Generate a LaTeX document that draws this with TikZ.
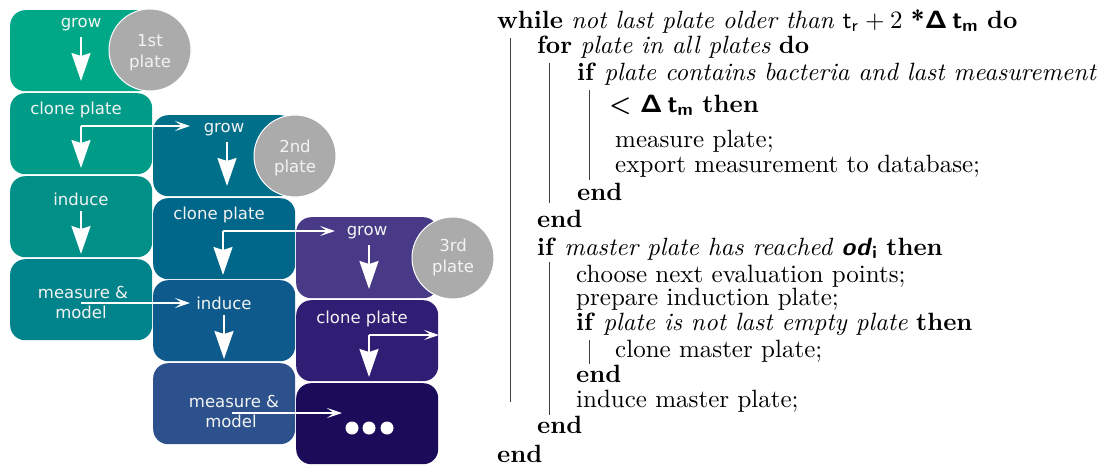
\documentclass[tikz,border=0pt]{standalone}
\usepackage[no-math]{fontspec}
\usepackage{graphicx}
\usetikzlibrary{arrows.meta}
\newfontfamily\boxfont{DejaVu Sans}
\definecolor{c11}{HTML}{00A887}
\definecolor{c12}{HTML}{009C88}
\definecolor{c13}{HTML}{009088}
\definecolor{c14}{HTML}{00838A}
\definecolor{c21}{HTML}{00708A}
\definecolor{c22}{HTML}{00668A}
\definecolor{c23}{HTML}{0E5A8C}
\definecolor{c24}{HTML}{2C518C}
\definecolor{c31}{HTML}{483A86}
\definecolor{c32}{HTML}{2F1E74}
\definecolor{c33}{HTML}{1B0C5A}
\definecolor{plategray}{HTML}{ABABAB}
\definecolor{txtw}{HTML}{F2F4F4}
\newcommand{\alg}[1]{\scalebox{2.5}{#1}}
\tikzset{
  box/.style={rectangle, rounded corners=15pt, minimum width=142pt, minimum height=81pt, inner sep=0pt, anchor=north west, draw=none},
  lbl/.style={font=\boxfont\fontsize{16.5}{20}\selectfont, text=txtw, anchor=base, inner sep=0pt},
  platec/.style={circle, fill=plategray, draw=white, line width=1pt, minimum size=82pt, inner sep=0pt},
  bigarrow/.style={draw=white, line width=2.3pt, -{Stealth[length=28pt,width=19pt,inset=3pt]}},
  smallarrow/.style={draw=white, line width=2pt, -{Stealth[length=15pt,width=10pt,inset=7pt]}},
  dot/.style={circle, fill=white, minimum size=13pt, inner sep=0pt},
  algline/.style={anchor=base west, inner sep=0pt},
  algrule/.style={draw=black!75, line width=0.9pt}
}
\begin{document}
\begin{tikzpicture}[x=1pt,y=-1pt]
\useasboundingbox (0,0) rectangle (1104,466);
% ---- boxes
\node[box, fill=c11] (b11) at (10,10) {};
\node[box, fill=c12] (b12) at (10,93) {};
\node[box, fill=c13] (b13) at (10,176) {};
\node[box, fill=c14] (b14) at (10,259) {};
\node[box, fill=c21] (b21) at (153,115) {};
\node[box, fill=c22] (b22) at (153,198) {};
\node[box, fill=c23] (b23) at (153,280) {};
\node[box, fill=c24] (b24) at (153,363) {};
\node[box, fill=c31] (b31) at (296,217) {};
\node[box, fill=c32] (b32) at (296,300) {};
\node[box, fill=c33] (b33) at (296,383) {};
% ---- plate circles
\node[platec] (p1) at (150,50) {};
\node[platec] (p2) at (295,156) {};
\node[platec] (p3) at (453,258) {};
\node[lbl] (p1a) at (150,46) {1st};
\node[lbl] (p1b) at (150,67) {plate};
\node[lbl] (p2a) at (295,152) {2nd};
\node[lbl] (p2b) at (295,172) {plate};
\node[lbl] (p3a) at (453,251) {3rd};
\node[lbl] (p3b) at (453,272) {plate};
% ---- box labels
\node[lbl] (t11) at (81,27) {grow};
\node[lbl] (t12) at (76,114) {clone plate};
\node[lbl] (t13) at (81,205) {induce};
\node[lbl] (t14a) at (83,298) {measure \&};
\node[lbl] (t14b) at (81,318) {model};
\node[lbl] (t21) at (224,132) {grow};
\node[lbl] (t22) at (219,219) {clone plate};
\node[lbl] (t23) at (224,309) {induce};
\node[lbl] (t24a) at (234,407) {measure \&};
\node[lbl] (t24b) at (231,427) {model};
\node[lbl] (t31) at (367,235) {grow};
\node[lbl] (t32) at (362,323) {clone plate};
\node[dot] (d1) at (352,428) {};
\node[dot] (d2) at (369,428) {};
\node[dot] (d3) at (387,428) {};
% ---- arrow coordinates
\coordinate (a11s) at (81,37);   \coordinate (a11e) at (81,81);
\coordinate (a12c) at (81,126);  \coordinate (a12e) at (81,168); \coordinate (a12h) at (190,126);
\coordinate (a13s) at (81,211);  \coordinate (a13e) at (81,254);
\coordinate (a14s) at (81,303);  \coordinate (a14h) at (190,303);
\coordinate (a21s) at (227,142); \coordinate (a21e) at (227,186);
\coordinate (a22c) at (223,231); \coordinate (a22e) at (223,275); \coordinate (a22h) at (335,231);
\coordinate (a23s) at (224,315); \coordinate (a23e) at (224,359);
\coordinate (a24s) at (232,413); \coordinate (a24h) at (342,413);
\coordinate (a31s) at (369,245); \coordinate (a31e) at (369,289);
\coordinate (a32c) at (369,335); \coordinate (a32e) at (369,377); \coordinate (a32h) at (439,335);
% ---- arrows
\draw[bigarrow] (a11s) -- (a11e);
\draw[bigarrow] (a12c) -- (a12e);
\draw[smallarrow] (a12c) -- (a12h);
\draw[bigarrow] (a13s) -- (a13e);
\draw[smallarrow] (a14s) -- (a14h);
\draw[bigarrow] (a21s) -- (a21e);
\draw[bigarrow] (a22c) -- (a22e);
\draw[smallarrow] (a22c) -- (a22h);
\draw[bigarrow] (a23s) -- (a23e);
\draw[smallarrow] (a24s) -- (a24h);
\draw[bigarrow] (a31s) -- (a31e);
\draw[bigarrow] (a32c) -- (a32e);
\draw[smallarrow] (a32c) -- (a32h);
% ---- algorithm
\node[algline] (l1) at (497,28) {\alg{\textbf{while} \textit{not last plate older than} $\mathsf{t_r}+2$ \textsf{\bfseries *}{\boldmath$\mathsf{\Delta\,t_m}$} \textbf{do}}};
\node[algline] (l2) at (537,53) {\alg{\textbf{for} \textit{plate in all plates} \textbf{do}}};
\node[algline] (l3) at (577,80) {\alg{\textbf{if} \textit{plate contains bacteria and last measurement}}};
\node[algline] (l4) at (609,112) {\alg{\textsf{\bfseries <} {\boldmath$\mathsf{\Delta\,t_m}$} \textbf{then}}};
\node[algline] (l5) at (615,147) {\alg{measure plate;}};
\node[algline] (l6) at (615,172) {\alg{export measurement to database;}};
\node[algline] (l7) at (577,200) {\alg{\textbf{end}}};
\node[algline] (l8) at (537,227) {\alg{\textbf{end}}};
\node[algline] (l9) at (537,255) {\alg{\textbf{if} \textit{master plate has reached} \textsf{\bfseries\itshape od}{\boldmath$_{\mathsf{i}}$} \textbf{then}}};
\node[algline] (l10) at (576,282) {\alg{choose next evaluation points;}};
\node[algline] (l11) at (576,305) {\alg{prepare induction plate;}};
\node[algline] (l12) at (576,330) {\alg{\textbf{if} \textit{plate is not last empty plate} \textbf{then}}};
\node[algline] (l13) at (615,357) {\alg{clone master plate;}};
\node[algline] (l14) at (576,382) {\alg{\textbf{end}}};
\node[algline] (l15) at (576,407) {\alg{induce master plate;}};
\node[algline] (l16) at (537,433) {\alg{\textbf{end}}};
\node[algline] (l17) at (497,462) {\alg{\textbf{end}}};
% ---- algorithm rules
\coordinate (r1s) at (510.7,38);  \coordinate (r1e) at (510.7,402);
\coordinate (r2s) at (549.3,63);  \coordinate (r2e) at (549.3,203);
\coordinate (r3s) at (589,90);    \coordinate (r3e) at (589,180);
\coordinate (r4s) at (549.3,262); \coordinate (r4e) at (549.3,415);
\coordinate (r5s) at (589,340);   \coordinate (r5e) at (589,364);
\draw[algrule] (r1s) -- (r1e);
\draw[algrule] (r2s) -- (r2e);
\draw[algrule] (r3s) -- (r3e);
\draw[algrule] (r4s) -- (r4e);
\draw[algrule] (r5s) -- (r5e);
\end{tikzpicture}
\end{document}
